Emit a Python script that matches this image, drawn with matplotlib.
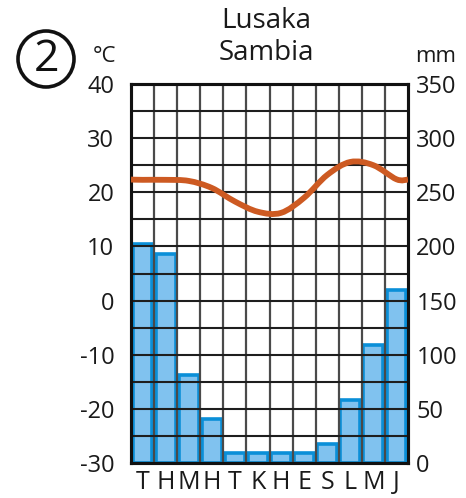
import numpy as np
import matplotlib
matplotlib.use("Agg")
import matplotlib.pyplot as plt
from matplotlib.path import Path
from matplotlib.patches import PathPatch, Ellipse

plt.rcParams['font.family'] = ['Open Sans', 'DejaVu Sans']
plt.rcParams['axes.unicode_minus'] = False

# Lusaka, Sambia - climate diagram
months = ["T", "H", "M", "H", "T", "K", "H", "E", "S", "L", "M", "J"]
temp = [22.3, 22.3, 22.1, 20.8, 18.3, 16.4, 16.2, 19.0, 23.2, 25.6, 25.0, 22.4]   # °C
rain = [202, 193, 81, 41, 9, 9, 9, 9, 18, 58, 109, 160]   # mm

W, H = 466, 498
fig = plt.figure(figsize=(W / 100, H / 100), dpi=100)

ax = fig.add_axes([131 / W, 35 / H, 277 / W, 379 / H])
ax2 = ax.twinx()
ax.set_zorder(ax2.get_zorder() + 1)
ax.patch.set_visible(False)

x = np.arange(len(months)) + 0.5

# precipitation bars on the mm axis
ax2.bar(x, rain, width=0.86, color="#80c2ef", edgecolor="#0a8fd8", linewidth=2.6, zorder=2)
ax2.set_ylim(0, 350)
ax2.set_yticks(range(0, 351, 50))
ax2.tick_params(axis="y", length=0, pad=6, labelsize=17, labelcolor="#1a1a1a")

# temperature axis with grid
ax.set_xlim(0, 12)
ax.set_ylim(-30, 40)
ax.set_yticks(range(-30, 41, 10))
ax.set_yticks(range(-25, 40, 10), minor=True)
ax.set_xticks(x)
ax.set_xticklabels(months)
ax.set_xticks(range(1, 12), minor=True)
ax.tick_params(which="both", length=0)
ax.tick_params(axis="y", pad=12, labelsize=17, labelcolor="#1a1a1a")
ax.tick_params(axis="x", pad=5, labelsize=18, labelcolor="#1a1a1a")
ax.grid(True, which="both", axis="y", color="#1e1e1e", linewidth=1.5)
ax.grid(True, which="minor", axis="x", color="#4a4a4a", linewidth=1.6)
for a in (ax, ax2):
    for s in a.spines.values():
        s.set_linewidth(2.2)
        s.set_color("#111111")

# smooth temperature curve (Catmull-Rom through the monthly values)
edge = (temp[0] + temp[-1]) / 2
px = np.concatenate([[0], x, [12]])
py = np.concatenate([[edge], temp, [edge]])
pts = np.column_stack([px, py])
verts = [pts[0]]
codes = [Path.MOVETO]
n = len(pts)
for i in range(n - 1):
    p0 = pts[i - 1] if i > 0 else pts[i]
    p1 = pts[i]
    p2 = pts[i + 1]
    p3 = pts[i + 2] if i + 2 < n else pts[i + 1]
    verts += [p1 + (p2 - p0) / 6, p2 - (p3 - p1) / 6, p2]
    codes += [Path.CURVE4] * 3
ax.add_patch(PathPatch(Path(verts, codes), fill=False, edgecolor="#cd5a22",
                       linewidth=4.2, capstyle="butt", zorder=5))

# titles and unit labels
fig.text(266 / W, 1 - 37 / H, "Lusaka\nSambia", ha="center", va="center",
         fontsize=20, linespacing=1.15, color="#1a1a1a")
fig.text(104 / W, 1 - 57 / H, "°C", ha="center", va="center", fontsize=16, color="#1a1a1a")
fig.text(436 / W, 1 - 56 / H, "mm", ha="center", va="center", fontsize=16, color="#1a1a1a")

fig.patches.append(Ellipse((46 / W, 1 - 59 / H), 56 / W, 56 / H, transform=fig.transFigure,
                           fill=False, edgecolor="#111111", linewidth=2.6))
fig.text(46 / W, 1 - 60 / H, "2", ha="center", va="center", fontsize=32, color="#111111")

fig.savefig("out.png", dpi=100)
